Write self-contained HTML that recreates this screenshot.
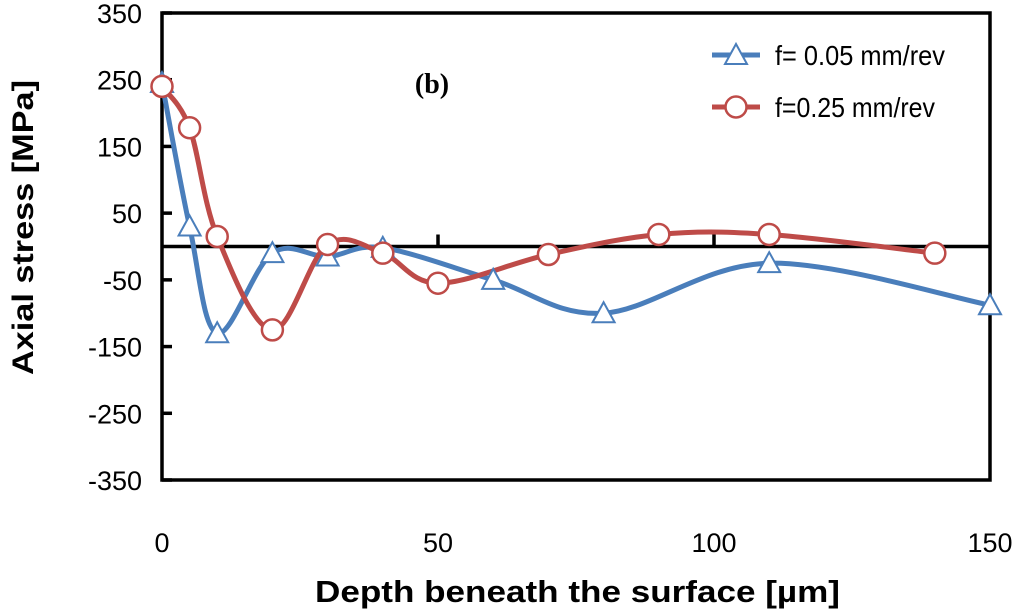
<!DOCTYPE html>
<html><head><meta charset="utf-8"><style>
html,body{margin:0;padding:0;background:#fff;}
svg{display:block;font-family:"Liberation Sans",sans-serif;}
</style></head><body>
<svg id="chart" width="1024" height="613" viewBox="0 0 1024 613"></svg>
<script>
const xTicks=[0,50,100,150];
const yTicks=[350,250,150,50,-50,-150,-250,-350];
const blueX=[0,5,10,20,30,40,60,80,110,150];
const blueY=[245,30,-130,-10,-15,-2,-50,-100,-25,-88];
const redX=[0,5,10,20,30,40,50,70,90,110,140];
const redY=[240,178,15,-125,3,-10,-55,-12,18,18,-10];
const L=162,R=990,T=13,B=480;
const sx=v=>L+(v-0)/150*(R-L);
const sy=v=>B-(v+350)/700*(B-T);
const svg=document.getElementById('chart');
const NS='http://www.w3.org/2000/svg';
function mk(t,a,txt){const e=document.createElementNS(NS,t);for(const k in a)e.setAttribute(k,a[k]);if(txt!==undefined)e.textContent=txt;svg.appendChild(e);return e;}
let e;
e=mk('rect',{x:L,y:T,width:R-L,height:B-T,fill:'none',stroke:'#000','stroke-width':3.5});


e=mk('line',{x1:L,x2:R,y1:sy(0),y2:sy(0),stroke:'#000','stroke-width':3.5});


yTicks.forEach(v=>{
 e=mk('line',{x1:L,x2:L+10,y1:sy(v),y2:sy(v),stroke:'#000','stroke-width':3.5});
 
 
 e=mk('text',{x:L-20,y:sy(v)+10,'text-anchor':'end','font-size':27,fill:'#000'},String(v));
 
 
});
xTicks.forEach(v=>{
 if(v>0&&v<150){e=mk('line',{x1:sx(v),x2:sx(v),y1:sy(0)-12,y2:sy(0),stroke:'#000','stroke-width':3.5});
 
 }
 e=mk('text',{x:sx(v),y:552,'text-anchor':'middle','font-size':27,fill:'#000'},String(v));
 
 
});
function smooth(xs,ys){
 const p=xs.map((x,i)=>[sx(x),sy(ys[i])]);
 let d='M'+p[0][0]+','+p[0][1];
 for(let i=0;i<p.length-1;i++){
  const p0=p[Math.max(0,i-1)],p1=p[i],p2=p[i+1],p3=p[Math.min(p.length-1,i+2)];
  const t=0.17;
  const c1=[p1[0]+(p2[0]-p0[0])*t,p1[1]+(p2[1]-p0[1])*t];
  const c2=[p2[0]-(p3[0]-p1[0])*t,p2[1]-(p3[1]-p1[1])*t];
  d+=`C${c1[0]},${c1[1]} ${c2[0]},${c2[1]} ${p2[0]},${p2[1]}`;
 }
 return d;
}
const blue='#4a7ebb',red='#be4b48';
e=mk('path',{d:smooth(blueX,blueY),fill:'none',stroke:blue,'stroke-width':5});


e=mk('path',{d:smooth(redX,redY),fill:'none',stroke:red,'stroke-width':5});


function tri(x,y){return `${x},${y-11} ${x+11},${y+9} ${x-11},${y+9}`;}
blueX.forEach((x,i)=>{
 e=mk('polygon',{points:tri(sx(x),sy(blueY[i])),fill:'#fff',stroke:blue,'stroke-width':2});
 
 
});
redX.forEach((x,i)=>{
 e=mk('circle',{cx:sx(x),cy:sy(redY[i]),r:10.5,fill:'#fff',stroke:red,'stroke-width':2.5});
 
 
});
// legend
e=mk('line',{x1:712,x2:760,y1:55,y2:55,stroke:blue,'stroke-width':5});


e=mk('polygon',{points:tri(736,55),fill:'#fff',stroke:blue,'stroke-width':2});


e=mk('text',{x:775,y:65,'font-size':28,fill:'#000',textLength:170,lengthAdjust:'spacingAndGlyphs'},'f= 0.05 mm/rev');


e=mk('line',{x1:712,x2:760,y1:107,y2:107,stroke:red,'stroke-width':5});


e=mk('circle',{cx:736,cy:107,r:10.5,fill:'#fff',stroke:red,'stroke-width':2.5});


e=mk('text',{x:775,y:117,'font-size':28,fill:'#000',textLength:160,lengthAdjust:'spacingAndGlyphs'},'f=0.25 mm/rev');


e=mk('text',{x:432,y:93,'text-anchor':'middle','font-size':28,'font-weight':'bold','font-family':'Liberation Serif,serif',fill:'#000'},'(b)');


e=mk('text',{x:315,y:602,'font-size':31,'font-weight':'bold',fill:'#000',textLength:525,lengthAdjust:'spacingAndGlyphs'},'Depth beneath the surface [µm]');


e=mk('text',{x:0,y:0,'font-size':30,'font-weight':'bold',fill:'#000',textLength:295,lengthAdjust:'spacingAndGlyphs',transform:'translate(33,375) rotate(-90)'},'Axial stress [MPa]');


</script>
</body></html>
